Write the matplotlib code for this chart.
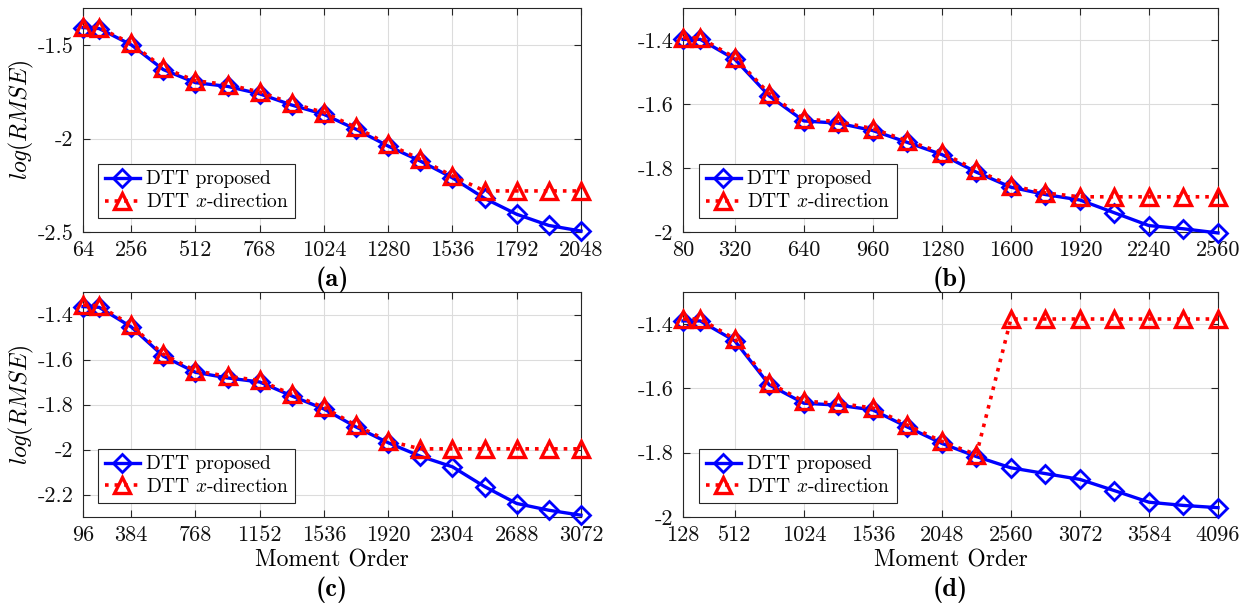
import matplotlib
matplotlib.use("Agg")
import matplotlib.pyplot as plt

plt.rcParams['font.family'] = ['cmr10', 'DejaVu Serif']
plt.rcParams['mathtext.fontset'] = 'cm'
plt.rcParams['axes.unicode_minus'] = False

# ---------------- data ----------------
x_a = [64, 128, 256, 384, 512, 640, 768, 896, 1024, 1152, 1280, 1408, 1536, 1664, 1792, 1920, 2048]
prop_a = [-1.405, -1.41, -1.497, -1.63, -1.70, -1.72, -1.76, -1.82, -1.87, -1.95, -2.04, -2.12, -2.21, -2.32, -2.405, -2.465, -2.495]
xdir_a = [-1.40, -1.405, -1.49, -1.62, -1.69, -1.71, -1.75, -1.81, -1.86, -1.94, -2.03, -2.11, -2.20, -2.28, -2.28, -2.28, -2.28]
xt_a = [64, 256, 512, 768, 1024, 1280, 1536, 1792, 2048]
yt_a = [-2.5, -2.0, -1.5]
ytl_a = ['-2.5', '-2', '-1.5']

x_b = [80, 160, 320, 480, 640, 800, 960, 1120, 1280, 1440, 1600, 1760, 1920, 2080, 2240, 2400, 2560]
prop_b = [-1.398, -1.398, -1.46, -1.575, -1.653, -1.66, -1.683, -1.72, -1.758, -1.813, -1.86, -1.883, -1.90, -1.94, -1.98, -1.99, -2.003]
xdir_b = [-1.393, -1.393, -1.455, -1.568, -1.647, -1.655, -1.677, -1.715, -1.752, -1.807, -1.855, -1.878, -1.89, -1.89, -1.89, -1.89, -1.89]
xt_b = [80, 320, 640, 960, 1280, 1600, 1920, 2240, 2560]
yt_b = [-2.0, -1.8, -1.6, -1.4]
ytl_b = ['-2', '-1.8', '-1.6', '-1.4']

x_c = [96, 192, 384, 576, 768, 960, 1152, 1344, 1536, 1728, 1920, 2112, 2304, 2496, 2688, 2880, 3072]
prop_c = [-1.365, -1.368, -1.455, -1.585, -1.657, -1.682, -1.70, -1.762, -1.82, -1.90, -1.97, -2.03, -2.077, -2.165, -2.24, -2.27, -2.292]
xdir_c = [-1.358, -1.361, -1.447, -1.577, -1.65, -1.675, -1.693, -1.755, -1.813, -1.893, -1.962, -1.997, -1.997, -1.997, -1.997, -1.997, -1.997]
xt_c = [96, 384, 768, 1152, 1536, 1920, 2304, 2688, 3072]
yt_c = [-2.2, -2.0, -1.8, -1.6, -1.4]
ytl_c = ['-2.2', '-2', '-1.8', '-1.6', '-1.4']

x_d = [128, 256, 512, 768, 1024, 1280, 1536, 1792, 2048, 2304, 2560, 2816, 3072, 3328, 3584, 3840, 4096]
prop_d = [-1.39, -1.39, -1.452, -1.589, -1.646, -1.652, -1.667, -1.72, -1.771, -1.812, -1.847, -1.865, -1.883, -1.918, -1.954, -1.964, -1.971]
xdir_d = [-1.384, -1.384, -1.446, -1.583, -1.64, -1.646, -1.661, -1.714, -1.765, -1.806, -1.384, -1.384, -1.384, -1.384, -1.384, -1.384, -1.384]
xt_d = [128, 512, 1024, 1536, 2048, 2560, 3072, 3584, 4096]
yt_d = [-2.0, -1.8, -1.6, -1.4]
ytl_d = ['-2', '-1.8', '-1.6', '-1.4']

panels = [
    dict(x=x_a, p=prop_a, q=xdir_a, xt=xt_a, yt=yt_a, ytl=ytl_a, ylim=(-2.5, -1.3), tag='(a)'),
    dict(x=x_b, p=prop_b, q=xdir_b, xt=xt_b, yt=yt_b, ytl=ytl_b, ylim=(-2.0, -1.3), tag='(b)'),
    dict(x=x_c, p=prop_c, q=xdir_c, xt=xt_c, yt=yt_c, ytl=ytl_c, ylim=(-2.3, -1.3), tag='(c)'),
    dict(x=x_d, p=prop_d, q=xdir_d, xt=xt_d, yt=yt_d, ytl=ytl_d, ylim=(-2.0, -1.3), tag='(d)'),
]

W, H = 1253, 606
fig = plt.figure(figsize=(W / 100, H / 100), dpi=100)

boxes = [(83, 581, 8, 232), (683, 1218, 8, 232), (83, 581, 292, 517), (683, 1218, 292, 517)]
fs_tick = 16
fs_leg = 14
fs_lab = 17
fs_tag = 19
for i, (pd, (l, r, t, b)) in enumerate(zip(panels, boxes)):
    ax = fig.add_axes([l / W, 1 - b / H, (r - l) / W, (b - t) / H])
    ax.plot(pd['x'], pd['p'], '-', color='#0000ff', lw=2.4, marker='D', ms=9,
            mfc='none', mec='#0000ff', mew=2.0, clip_on=False, zorder=3,
            label='DTT proposed')
    ax.plot(pd['x'], pd['q'], ':', color='#ff0000', lw=2.6, marker='^', ms=12,
            mfc='none', mec='#ff0000', mew=2.4, clip_on=False, zorder=4,
            label='DTT $x$-direction')
    ax.set_xlim(pd['x'][0], pd['x'][-1])
    ax.set_ylim(*pd['ylim'])
    ax.set_xticks(pd['xt'])
    ax.set_xticklabels([str(v) for v in pd['xt']], fontsize=fs_tick)
    ax.set_yticks(pd['yt'])
    ax.set_yticklabels(pd['ytl'], fontsize=fs_tick)
    ax.grid(True, color='#dcdcdc', lw=0.8)
    ax.set_axisbelow(True)
    ax.tick_params(direction='in', top=True, right=True, length=5, width=0.8,
                   color='#262626', labelcolor='#111111')
    ax.tick_params(axis='x', pad=6)
    ax.tick_params(axis='y', pad=7)
    for s in ax.spines.values():
        s.set_color('#262626')
        s.set_linewidth(0.8)
    if i % 2 == 0:
        ax.set_ylabel('$log(RMSE)$', fontsize=fs_lab, labelpad=1)
    if i >= 2:
        ax.set_xlabel('Moment Order', fontsize=fs_lab, labelpad=3)
    leg = ax.legend(loc='lower left', bbox_to_anchor=(0.03, 0.062), borderaxespad=0,
                    fontsize=fs_leg, frameon=True, fancybox=False, framealpha=1,
                    edgecolor='#262626', handlelength=1.8, handletextpad=0.3,
                    borderpad=0.35, labelspacing=0.25)
    leg.get_frame().set_linewidth(0.8)
    cx = (l + r) / 2 / W
    ty = (b + 48) / H if i < 2 else (b + 73) / H
    fig.text(cx, 1 - ty, pd['tag'], ha='center', va='center', fontsize=fs_tag,
             family=['cmb10', 'DejaVu Serif'])

fig.savefig('out.png', dpi=100)
